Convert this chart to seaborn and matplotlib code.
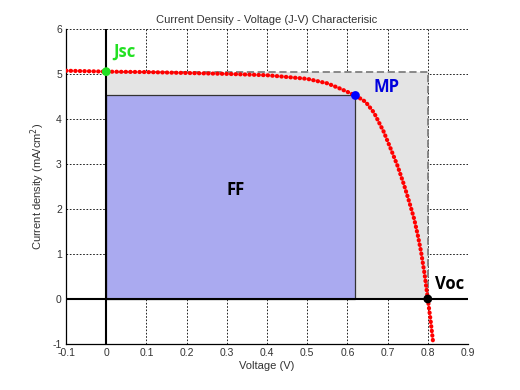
import matplotlib
matplotlib.use('Agg')
import matplotlib.pyplot as plt
import seaborn as sns
import pandas as pd
from matplotlib.patches import Rectangle

# J-V curve
voltage = [-0.1, 0.0, 0.1, 0.2, 0.3, 0.4, 0.5, 0.55, 0.58, 0.6, 0.62, 0.645, 0.666,
           0.69, 0.708, 0.725, 0.741, 0.755, 0.766, 0.775, 0.783, 0.792, 0.8, 0.807, 0.813]
current = [5.07, 5.05, 5.04, 5.02, 5.0, 4.97, 4.89, 4.79, 4.68, 4.6, 4.52, 4.38, 4.14,
           3.72, 3.33, 2.95, 2.53, 2.12, 1.78, 1.42, 1.06, 0.55, 0.0, -0.48, -0.95]

# key points
jsc = 5.05
voc = 0.8
v_mp, j_mp = 0.62, 4.52

x_ticks = [-0.1, 0, 0.1, 0.2, 0.3, 0.4, 0.5, 0.6, 0.7, 0.8, 0.9]
x_labels = ['-0.1', '0', '0.1', '0.2', '0.3', '0.4', '0.5', '0.6', '0.7', '0.8', '0.9']
y_ticks = [-1, 0, 1, 2, 3, 4, 5, 6]

df = pd.DataFrame({'V': voltage, 'J': current})
pts = pd.DataFrame({'V': [0, v_mp, voc], 'J': [jsc, j_mp, 0], 'name': ['Jsc', 'MP', 'Voc']})

sns.set_style('white')
plt.rcParams['font.family'] = ['Liberation Sans', 'DejaVu Sans']
plt.rcParams['axes.unicode_minus'] = False

fig = plt.figure(figsize=(5.2, 3.9), dpi=100)
ax = fig.add_axes([0.127, 0.118, 0.773, 0.808])

# grid like matlab, behind the boxes
ax.set_axisbelow(True)
ax.grid(True, color='black', linestyle=(0, (2, 2)), linewidth=0.6)

# boxes
ax.add_patch(Rectangle((0, 0), voc, jsc, facecolor='#e4e4e4', edgecolor='none', zorder=1))
ax.plot([0, voc, voc], [jsc, jsc, 0], color='#808080', linestyle=(0, (4, 2)), linewidth=1.3, zorder=2)
ax.add_patch(Rectangle((0, 0), v_mp, j_mp, facecolor='#aaaaf0', edgecolor='#333333',
                       linewidth=0.9, zorder=2))

# axis lines through origin
ax.axvline(0, color='black', linewidth=1.5, zorder=3)
ax.axhline(0, color='black', linewidth=1.5, zorder=3)

sns.lineplot(data=df, x='V', y='J', sort=False, color='red', linestyle=(0, (0.1, 1.0)),
             linewidth=3.0, dash_capstyle='round', ax=ax, zorder=4)
sns.scatterplot(data=pts, x='V', y='J', hue='name', palette=['#22e022', '#0000ff', 'black'],
                s=40, edgecolor='none', legend=False, ax=ax, zorder=5)

ann = dict(fontweight='bold', fontsize=12, family=['Open Sans', 'DejaVu Sans'], va='center')
ax.text(0.018, 5.5, 'Jsc', color='#22e022', **ann)
ax.text(0.665, 4.7, 'MP', color='#0000dd', **ann)
ax.text(0.3, 2.43, 'FF', color='black', **ann)
ax.text(0.818, 0.33, 'Voc', color='black', **ann)

ax.set_xlim(-0.1, 0.9)
ax.set_ylim(-1, 6)
ax.set_xticks(x_ticks)
ax.set_xticklabels(x_labels)
ax.set_yticks(y_ticks)
ax.tick_params(labelsize=7.5, colors='#333333', length=0, pad=3)
for s in ['top', 'right']:
    ax.spines[s].set_visible(False)
for s in ['left', 'bottom']:
    ax.spines[s].set_color('black')
    ax.spines[s].set_linewidth(0.9)

ax.set_xlabel('Voltage (V)', fontsize=8, color='#333333', labelpad=2)
ax.set_ylabel('Current density (mA/cm$^2$)', fontsize=8, color='#333333', labelpad=4)
ax.set_title('Current Density - Voltage (J-V) Characterisic', fontsize=8, color='#333333', pad=4)

fig.savefig('out.png', dpi=100)
